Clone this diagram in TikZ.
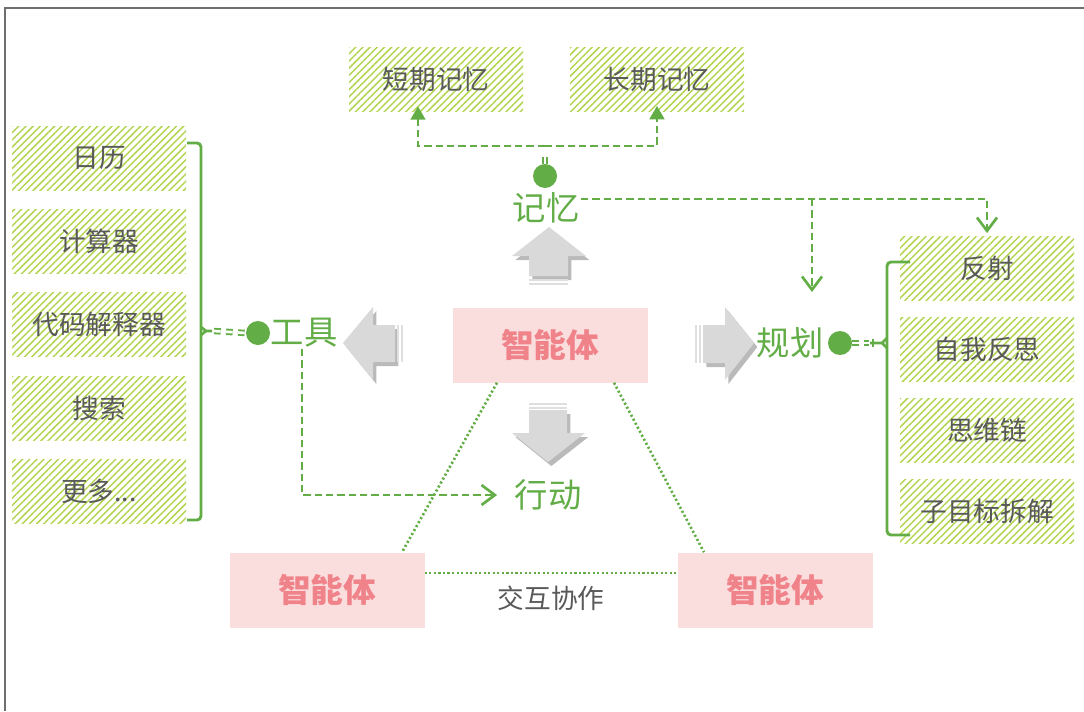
\documentclass[tikz,border=0pt]{standalone}
\usepackage{fontspec}
\setmainfont{Noto Sans CJK SC}
\usetikzlibrary{arrows.meta,patterns.meta,shadows,calc}
\definecolor{hatch}{HTML}{B2D450}
\definecolor{grn}{HTML}{63AD47}
\definecolor{txtgray}{HTML}{595959}
\definecolor{pinkfill}{HTML}{FADDDD}
\definecolor{pinktxt}{HTML}{F0828A}
\definecolor{arrgray}{HTML}{D9D9D9}
\definecolor{framegray}{HTML}{6E6E6E}
\begin{document}
\begin{tikzpicture}[x=0.75pt,y=-0.75pt,
  hbox/.style={minimum width=130.5pt,minimum height=48pt,inner sep=0pt,
    pattern={Lines[angle=45,distance=3.8pt,line width=1.1pt]},pattern color=hatch,
    text=txtgray,font=\fontsize{20}{21}\selectfont},
  agent/.style={fill=pinkfill,minimum width=146.25pt,minimum height=56.25pt,inner sep=0pt,
    text=pinktxt,font=\fontsize{24.5}{25}\selectfont\bfseries},
  gtext/.style={text=grn,font=\fontsize{25}{27}\selectfont,inner sep=1pt},
  gdot/.style={circle,fill=grn,minimum size=18pt,inner sep=0pt},
  dconn/.style={draw=grn,line width=2pt,dash pattern=on 5.5pt off 3pt},
  dbl/.style={draw=grn,line width=1.4pt,double distance=2pt,dash pattern=on 5pt off 4pt},
  dotconn/.style={draw=grn,line width=2pt,dash pattern=on 1.6pt off 1.8pt},
  brk/.style={draw=grn,line width=2.2pt,rounded corners=3pt},
  blk/.style={fill=arrgray,drop shadow={opacity=0.45,fill=black!60,shadow xshift=2.5pt,shadow yshift=-3pt}},
  bar/.style={fill=arrgray!85},
  barb/.style={-{Straight Barb[length=10pt,width=15pt,line width=2pt]}},
  tri/.style={-{Triangle[length=10pt,width=11pt]}}
]
\useasboundingbox (0,0) rectangle (1084,711);
\draw[framegray,line width=1.4pt] (5,711) -- (5,8) -- (1084,8);

% memory boxes
\node[hbox] (stm) at (436,79) {短期记忆};
\node[hbox] (ltm) at (657,79) {长期记忆};

% tools boxes
\node[hbox] (t1) at (99,158) {日历};
\node[hbox] (t2) at (99,241) {计算器};
\node[hbox] (t3) at (99,324) {代码解释器};
\node[hbox] (t4) at (99,408) {搜索};
\node[hbox] (t5) at (99,491) {更多...};

% planning boxes
\node[hbox] (p1) at (987,268) {反射};
\node[hbox] (p2) at (987,349) {自我反思};
\node[hbox] (p3) at (987,430) {思维链};
\node[hbox] (p4) at (987,511) {子目标拆解};

% agents
\node[agent] (ac) at (550,345) {智能体};
\node[agent] (al) at (327,590) {智能体};
\node[agent] (ar) at (775,590) {智能体};
\node[text=txtgray,font=\fontsize{20}{21}\selectfont] (coop) at (551,598) {交互协作};

% green labels and dots
\node[gtext] (mem) at (546,208) {记忆};
\node[gdot] (mdot) at (545,176) {};
\node[gtext] (tool) at (304,333) {工具};
\node[gdot] (tdot) at (258,333) {};
\node[gtext] (plan) at (790,343) {规划};
\node[gdot] (pdot) at (840,343) {};
\node[gtext] (act) at (548,495) {行动};

% block arrows
% up
\path[blk] (549,227) -- (586,256) -- (568,256) -- (568,276) -- (529,276) -- (529,256) -- (512,256) -- cycle;
\fill[bar] (529,278.5) rectangle (568,280.5);
\fill[bar] (529,282.5) rectangle (568,284.5);
% down
\path[blk] (529,410) -- (567,410) -- (567,433) -- (585,433) -- (548,462) -- (512,433) -- (529,433) -- cycle;
\fill[bar] (529,403) rectangle (567,405);
\fill[bar] (529,406.5) rectangle (567,408.5);
% left
\path[blk] (343,343) -- (373,307) -- (373,325) -- (395,325) -- (395,362) -- (373,362) -- (373,380) -- cycle;
\fill[bar] (397,325) rectangle (399,362);
\fill[bar] (401,325) rectangle (403,362);
% right
\path[blk] (754,343) -- (725,307) -- (725,325) -- (703,325) -- (703,363) -- (725,363) -- (725,380) -- cycle;
\fill[bar] (695,325) rectangle (697,363);
\fill[bar] (699,325) rectangle (701,363);

% memory connectors
\coordinate (mj) at (545,146);
\draw[dbl] (mdot.north) -- ($(mdot.north)+(0,-10)$);
\draw[dconn,tri] (mj) -| ([xshift=-13.5pt,yshift=4pt]stm.south);
\draw[dconn,tri] (mj) -| ([yshift=4pt]ltm.south);
\coordinate (mr) at ($(mem.east)+(0,-9)$);
\coordinate (pj) at (812,292);
\draw[dconn,barb] (mr) -| ([yshift=2pt]p1.north);
\draw[dconn,barb] (812,199) -- (pj);

% tools to action
\draw[dconn,barb] (tool.south) ++(-2,0) |- ([xshift=-12pt]act.west);

% left bracket
\draw[brk] (187,143) -- (201,143) -- (201,520) -- (187,520);
\draw[grn,line width=2pt] (201,327) -- (206,331) -- (201,335) (206,331) -- (212,331);
\draw[dbl] (214,331) -- (tdot.west);

% right bracket
\draw[brk] (910,262) -- (887,262) -- (887,535) -- (910,535);
\draw[grn,line width=2pt] (887,338) -- (882,343) -- (887,348) (882,343) -- (870,343);
\draw[grn,line width=2pt] (873,339) -- (873,347);
\draw[dbl] (pdot.east) -- (869,343);

% dotted interaction lines
\draw[dotconn] ([xshift=-39.75pt]ac.south) -- ([xshift=56.25pt]al.north);
\draw[dotconn] ([xshift=48pt]ac.south) -- ([xshift=-53.25pt]ar.north);
\draw[dotconn] ([yshift=12.75pt]al.east) -- ([yshift=12.75pt]ar.west);
\end{tikzpicture}
\end{document}
